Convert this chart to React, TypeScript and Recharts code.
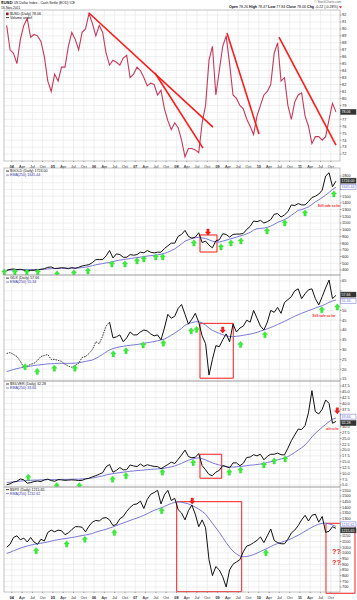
import React from "react";
import {
  ComposedChart,
  Line,
  Scatter,
  XAxis,
  YAxis,
  CartesianGrid,
  ReferenceLine,
  ReferenceArea,
  ReferenceDot,
} from "recharts";

const FONT = "'Liberation Sans', Arial, Helvetica, sans-serif";

// x axis: quarters, year label instead of Jan
const years = ["04", "05", "06", "07", "08", "09", "10", "11"];
const quarterNames = ["", "Apr", "Jul", "Oct"];

// monthly readings, Nov 2003 .. Nov 2011
const usd = [
  90.5, 87.0,
  86.5, 85.0, 88.5, 90.5, 91.5, 88.8, 89.2, 89.0, 88.2, 86.0, 82.5, 81.0,
  83.5, 82.5, 84.5, 84.5, 87.5, 89.5, 88.5, 87.0, 89.5, 90.0, 92.2, 90.8,
  89.0, 90.5, 89.5, 86.5, 84.8, 85.5, 85.2, 84.8, 85.8, 86.2, 83.0, 83.5,
  84.5, 84.0, 83.0, 81.8, 82.2, 82.0, 80.5, 81.2, 78.5, 76.8, 75.5, 76.5,
  75.8, 74.0, 71.6, 72.8, 72.8, 72.6, 72.2, 76.5, 79.0, 85.5, 87.5, 80.5,
  84.0, 87.5, 89.0, 85.0, 80.5, 80.0, 79.0, 78.5, 77.0, 76.0, 74.8, 77.5,
  79.0, 80.5, 81.0, 82.0, 86.5, 88.0, 82.5, 83.0, 79.0, 77.0, 79.5, 80.5,
  80.8, 77.5, 76.0, 73.5, 74.5, 74.5, 74.0, 74.5, 77.0, 79.3, 78.06,
];

const gold = [
  395, 410,
  415, 405, 410, 400, 385, 395, 395, 405, 410, 420, 440, 445,
  423, 425, 435, 430, 420, 435, 425, 440, 460, 470, 480, 510,
  555, 555, 555, 610, 690, 580, 640, 630, 590, 590, 630, 620,
  630, 665, 655, 690, 665, 655, 665, 665, 720, 760, 800, 800,
  900, 930, 990, 900, 875, 890, 955, 810, 830, 770, 730, 835,
  850, 940, 930, 890, 930, 935, 935, 945, 1005, 1050, 1130, 1120,
  1140, 1100, 1120, 1150, 1230, 1240, 1190, 1220, 1270, 1370, 1360, 1390,
  1370, 1370, 1420, 1480, 1500, 1530, 1590, 1800, 1850, 1640, 1724,
];

const goldEma = [
  395, 398,
  400, 402, 404, 405, 406, 407, 407, 408, 409, 411, 416, 420,
  422, 424, 425, 427, 427, 428, 429, 430, 436, 442, 452, 465,
  478, 487, 496, 505, 512, 525, 538, 548, 556, 563, 571, 578,
  585, 592, 600, 608, 614, 620, 627, 635, 648, 665, 690, 715,
  750, 790, 830, 850, 870, 880, 885, 878, 870, 850, 830, 820,
  817, 830, 845, 860, 875, 890, 905, 920, 940, 960, 995, 1015,
  1020, 1025, 1035, 1055, 1080, 1110, 1130, 1150, 1180, 1215, 1250, 1290,
  1300, 1320, 1340, 1375, 1415, 1445, 1480, 1515, 1555, 1600, 1635,
];

const gdx = [
  28.0, 28.5,
  27.5, 26.5, 24.0, 21.0, 21.5, 22.5, 23.0, 24.5, 26.5, 27.0, 27.5, 25.0,
  25.0, 24.5, 24.0, 22.5, 21.5, 21.0, 22.0, 23.0, 26.0, 26.5, 28.0, 30.0,
  34.0, 33.0, 37.0, 42.0, 44.0, 36.0, 36.5, 37.5, 34.0, 36.0, 39.0, 37.5,
  37.5, 39.0, 40.0, 39.5, 38.0, 37.0, 37.5, 35.0, 41.0, 48.0, 46.0, 47.0,
  51.0, 53.0, 48.0, 43.0, 45.5, 48.5, 44.0, 37.0, 33.0, 17.0, 25.0, 32.0,
  31.5, 35.0, 38.0, 34.0, 43.0, 39.0, 41.0, 42.0, 45.0, 44.0, 50.0, 46.0,
  42.0, 40.0, 44.0, 50.0, 49.0, 51.5, 48.5, 54.0, 55.5, 57.0, 60.0, 61.0,
  56.0, 58.5, 60.5, 61.0, 56.0, 52.8, 57.0, 61.5, 65.5, 56.0, 57.66,
];

const gdxEma = [
  18.8, 19.3,
  19.8, 20.3, 20.7, 21.0, 21.3, 21.6, 21.9, 22.1, 22.3, 22.5, 22.7, 22.8,
  22.9, 23.0, 23.0, 23.0, 23.0, 23.0, 23.1, 23.3, 23.6, 24.0, 24.3, 24.7,
  25.5, 26.5, 27.6, 28.8, 29.8, 30.5, 31.0, 31.4, 31.7, 32.0, 32.2, 32.4,
  32.6, 32.9, 33.2, 33.5, 33.8, 34.1, 34.5, 34.9, 35.4, 36.3, 37.3, 38.4,
  39.6, 40.8, 42.4, 43.2, 43.8, 44.2, 44.2, 43.6, 42.5, 41.0, 39.8, 39.0,
  38.3, 37.6, 37.0, 36.7, 36.6, 36.8, 37.0, 37.3, 37.6, 37.9, 38.3, 38.8,
  39.4, 40.0, 40.6, 41.3, 42.0, 42.8, 43.6, 44.4, 45.3, 46.2, 47.0, 47.8,
  48.5, 49.2, 49.9, 50.5, 51.2, 51.8, 52.4, 53.2, 54.1, 54.8, 55.3,
];

const silver = [
  5.1, 5.5,
  6.3, 6.6, 7.6, 7.2, 5.8, 6.0, 6.5, 6.7, 6.5, 7.2, 7.5, 6.9,
  6.6, 7.3, 7.2, 7.0, 7.1, 7.2, 7.1, 6.9, 7.0, 7.6, 7.9, 8.5,
  9.0, 9.6, 10.3, 12.8, 13.8, 10.5, 11.3, 12.5, 11.5, 11.6, 13.6, 13.2,
  12.9, 14.0, 13.0, 13.7, 13.3, 13.0, 12.9, 12.0, 12.9, 13.8, 14.8, 14.2,
  16.0, 17.9, 20.0, 17.2, 16.7, 16.9, 18.5, 13.3, 11.5, 9.5, 9.0, 10.5,
  11.3, 13.3, 12.9, 12.3, 14.5, 14.5, 13.3, 14.3, 16.8, 17.0, 18.0, 17.5,
  18.2, 15.8, 17.3, 18.2, 18.2, 18.7, 18.0, 17.9, 20.8, 24.0, 26.5, 29.0,
  28.8, 30.5, 36.0, 45.5, 36.5, 35.5, 37.5, 41.5, 40.0, 31.5, 32.28,
];

const silverEma = [
  6.1, 6.2,
  6.3, 6.5, 6.7, 6.8, 6.9, 7.0, 7.1, 7.1, 7.2, 7.2, 7.3, 7.3,
  7.3, 7.3, 7.4, 7.4, 7.4, 7.5, 7.5, 7.5, 7.6, 7.7, 7.8, 8.0,
  8.3, 8.6, 8.9, 9.3, 9.6, 9.9, 10.1, 10.3, 10.5, 10.7, 10.9, 11.0,
  11.2, 11.3, 11.4, 11.6, 11.7, 11.8, 11.9, 12.0, 12.2, 12.5, 12.8, 13.2,
  13.7, 14.3, 15.0, 15.6, 16.1, 16.5, 16.6, 16.3, 15.8, 15.1, 14.5, 14.0,
  13.6, 13.3, 13.0, 12.8, 12.7, 12.8, 12.9, 13.1, 13.3, 13.5, 13.6, 13.8,
  14.0, 14.3, 14.6, 15.0, 15.4, 15.8, 16.2, 16.6, 17.2, 18.0, 19.0, 20.0,
  21.0, 22.2, 23.8, 25.6, 27.2, 28.5, 29.8, 31.0, 32.2, 33.2, 33.7,
];

const spx = [
  1050, 1075,
  1135, 1150, 1115, 1130, 1095, 1135, 1095, 1075, 1120, 1105, 1180, 1200,
  1185, 1200, 1195, 1160, 1175, 1205, 1230, 1230, 1225, 1185, 1235, 1270,
  1285, 1280, 1305, 1310, 1290, 1240, 1250, 1300, 1320, 1365, 1400, 1425,
  1430, 1455, 1390, 1470, 1515, 1530, 1550, 1430, 1510, 1550, 1460, 1480,
  1380, 1350, 1290, 1370, 1420, 1340, 1230, 1290, 1220, 940, 800, 880,
  850, 790, 700, 850, 900, 920, 940, 1010, 1060, 1070, 1090, 1110,
  1140, 1090, 1150, 1210, 1110, 1090, 1080, 1080, 1120, 1175, 1200, 1240,
  1290, 1330, 1280, 1330, 1340, 1270, 1320, 1180, 1190, 1230, 1215.65,
];

const spxEma = [
  995, 1005,
  1018, 1030, 1042, 1052, 1060, 1068, 1075, 1080, 1085, 1090, 1096, 1103,
  1110, 1116, 1121, 1125, 1130, 1135, 1140, 1146, 1152, 1157, 1163, 1170,
  1183, 1191, 1199, 1208, 1218, 1228, 1240, 1252, 1263, 1274, 1285, 1296,
  1306, 1318, 1330, 1344, 1360, 1374, 1385, 1395, 1408, 1422, 1434, 1444,
  1448, 1445, 1438, 1430, 1418, 1402, 1385, 1365, 1340, 1300, 1260, 1220,
  1180, 1135, 1090, 1050, 1015, 990, 972, 966, 968, 975, 985, 998,
  1012, 1026, 1040, 1055, 1070, 1082, 1092, 1102, 1112, 1125, 1140, 1155,
  1172, 1190, 1208, 1225, 1240, 1252, 1260, 1262, 1255, 1245, 1233,
];

// tick values for the right axes
const usdTicks = [72, 73, 74, 75, 76, 77, 78, 79, 80, 81, 82, 83, 84, 85, 86, 87, 88, 89, 90, 91, 92];
const goldTicks = [400, 500, 600, 700, 800, 900, 1000, 1100, 1200, 1300, 1400, 1500, 1600, 1700, 1800];
const gdxTicks = [15, 20, 25, 30, 35, 40, 45, 50, 55, 60, 65];
const silverTicks = [5, 7.5, 10, 12.5, 15, 17.5, 20, 22.5, 25, 27.5, 30, 32.5, 35, 37.5, 40, 42.5, 45, 47.5];
const spxTicks = [700, 750, 800, 850, 900, 950, 1000, 1050, 1100, 1150, 1200, 1250, 1300, 1350, 1400, 1450, 1500, 1550];

// annotations (t = months since Jan 2004)
const usdTrends = [
  { t1: 22.5, v1: 92.29, t2: 58.66, v2: 75.88 },
  { t1: 41.75, v1: 83.65, t2: 55.74, v2: 72.86 },
  { t1: 62.74, v1: 89.41, t2: 72.07, v2: 74.88 },
  { t1: 77.9, v1: 88.83, t2: 94.52, v2: 73.3 },
];
const goldUp = [
  { t: -2.2, v: 370 }, { t: 0.9, v: 370 }, { t: 4.4, v: 370 }, { t: 7.6, v: 370 },
  { t: 13.2, v: 340 }, { t: 18.1, v: 355 }, { t: 22.2, v: 385 }, { t: 29.2, v: 490 },
  { t: 33, v: 490 }, { t: 36.5, v: 534 }, { t: 38.5, v: 564 }, { t: 42, v: 594 },
  { t: 44, v: 594 }, { t: 53.1, v: 802 }, { t: 61, v: 743 }, { t: 63.9, v: 802 },
  { t: 66.8, v: 832 }, { t: 74.4, v: 981 }, { t: 79.6, v: 1100 }, { t: 85.5, v: 1249 },
  { t: 93.9, v: 1533 },
];
const goldDown = [{ t: 57.2, v: 966 }];
const gdxUp = [
  { t: 3.85, v: 21.3 }, { t: 7.4, v: 18.8 }, { t: 12.4, v: 20.5 }, { t: 18.4, v: 20.5 },
  { t: 29.6, v: 27.8 }, { t: 33.3, v: 29.4 }, { t: 38.3, v: 32.4 }, { t: 44.2, v: 33.3 },
  { t: 52.3, v: 39.5 }, { t: 53.9, v: 40.3 }, { t: 66.7, v: 32.6 }, { t: 73.8, v: 37.6 },
  { t: 90.4, v: 50.3 }, { t: 94.9, v: 51.7 },
];
const gdxDown = [{ t: 61.5, v: 40.0 }];
const silverUp = [
  { t: 4.8, v: 8.3 }, { t: 13.1, v: 4.7 }, { t: 19.7, v: 4.7 }, { t: 29.4, v: 7.5 },
  { t: 33.3, v: 9.0 }, { t: 43.9, v: 10.5 }, { t: 52.9, v: 14.6 }, { t: 63.4, v: 10.5 },
  { t: 66.7, v: 11.4 }, { t: 73.5, v: 13.6 }, { t: 76.5, v: 15.3 }, { t: 79.7, v: 16.2 },
];
const silverDown = [{ t: 94.9, v: 36.9 }];
const spxUp = [
  { t: 7.1, v: 1019 }, { t: 16, v: 1078 }, { t: 21.3, v: 1119 },
  { t: 29.9, v: 1178 }, { t: 43.7, v: 1371 }, { t: 74.1, v: 1002 },
];
const spxDown = [{ t: 52.6, v: 1456 }];

const goldBox = { t1: 54.87, t2: 59.83, v1: 668, v2: 922 };
const gdxBox = { t1: 54.87, t2: 64.58, v1: 15.4, v2: 43.4 };
const silverBox = { t1: 54.87, t2: 61.2, v1: 7.9, v2: 18.2 };
const spxBoxes = [
  { t1: 48.08, t2: 67.03, v1: 659, v2: 1450 },
  { t1: 91.6, t2: 100.06, v1: 645, v2: 1260 },
];

const quarterTicks = years.flatMap((_, i) => [0, 3, 6, 9].map((m) => i * 12 + m));
const xDomain: [number, number] = [-2.27, 95.69];

const rows = usd.map((v, i) => ({
  t: i - 1.5,
  usd: v,
  gold: gold[i],
  goldEma: goldEma[i],
  gdxEarly: i <= 30 ? gdx[i] : null,
  gdx: i >= 30 ? gdx[i] : null,
  gdxEma: gdxEma[i],
  silver: silver[i],
  silverEma: silverEma[i],
  spx: spx[i],
  spxEma: spxEma[i],
}));

const EMA_BLUE = "#6a6ad0";
const RED = "#ff1a1a";

function quarterLabel(t: number) {
  const y = Math.floor(t / 12);
  const q = (t % 12) / 3;
  return q === 0 ? years[y] : quarterNames[q];
}

const XTick = (p: any) => {
  const t = p.payload.value;
  return (
    <text x={p.x} y={p.y + 3.6} textAnchor="middle" fontSize={3.8} fontFamily={FONT}
      fontWeight={t % 12 === 0 ? 700 : 400} fill="#222">
      {quarterLabel(t)}
    </text>
  );
};

// right-axis tick; ticks covered by a price tag are not drawn
const YTick = (p: any) => {
  const v = p.payload.value;
  if (p.covered && p.covered.includes(v)) return null;
  return (
    <text x={p.x} y={p.y} dy="0.35em" textAnchor="start" fontSize={3.9} fontFamily={FONT} fill="#222">
      {p.fmt ? p.fmt(v) : v}
    </text>
  );
};

const UpArrow = (p: any) => {
  const { cx, cy } = p;
  if (cx == null || cy == null) return null;
  return (
    <path
      d={`M${cx},${cy - 3.2} L${cx + 2.7},${cy} L${cx + 1.2},${cy} L${cx + 1.2},${cy + 3} L${cx - 1.2},${cy + 3} L${cx - 1.2},${cy} L${cx - 2.7},${cy} Z`}
      fill="#33f233" stroke="#22c422" strokeWidth={0.3}
    />
  );
};

const DownArrow = (p: any) => {
  const { cx, cy } = p;
  if (cx == null || cy == null) return null;
  return (
    <path
      d={`M${cx},${cy + 3.2} L${cx + 2.7},${cy} L${cx + 1.2},${cy} L${cx + 1.2},${cy - 3} L${cx - 1.2},${cy - 3} L${cx - 1.2},${cy} L${cx - 2.7},${cy} Z`}
      fill={RED} stroke="#c00" strokeWidth={0.3}
    />
  );
};

const note = (text: string, size: number) => (p: any) => (
  <text x={p.cx} y={p.cy + size * 0.35} textAnchor="middle" fontSize={size} fontWeight={700}
    fill={RED} fontFamily={FONT}>
    {text}
  </text>
);

const tag = (text: string, ema: boolean, nudge = 0) => (p: any) => (
  <g>
    <rect x={p.cx + 0.5} y={p.cy - 2.5 + nudge} width={15.5} height={5}
      fill={ema ? "#fff" : "#333"} stroke={ema ? EMA_BLUE : "#333"} strokeWidth={0.5} />
    <text x={p.cx + 1.5} y={p.cy + 1.3 + nudge} fontSize={3.6} fontFamily={FONT}
      fill={ema ? EMA_BLUE : "#fff"}>
      {text}
    </text>
  </g>
);

type PanelProps = {
  top: number;
  height: number;
  domain: [number, number];
  ticks: number[];
  tags: number[];
  showX?: boolean;
  fmt?: (v: number) => string;
  children: React.ReactNode;
};

function Panel({ top, height, domain, ticks, tags, showX, fmt, children }: PanelProps) {
  const plotH = height - (showX ? 8 : 0);
  const pxPerUnit = plotH / (domain[1] - domain[0]);
  const covered = ticks.filter((tk) => tags.some((tv) => Math.abs(tk - tv) * pxPerUnit < 5));
  return (
    <div style={{ position: "absolute", left: 0, top, width: 357, height }}>
      <ComposedChart width={357} height={height} data={rows}
        margin={{ top: 0, right: 0, bottom: 0, left: 4 }}>
        <CartesianGrid stroke="#e4e4e4" strokeWidth={0.6}
          horizontalValues={ticks} verticalValues={quarterTicks} />
        <XAxis dataKey="t" type="number" domain={xDomain} ticks={quarterTicks} interval={0}
          hide={!showX} height={showX ? 8 : 0} tick={<XTick />} tickSize={1}
          tickLine={{ stroke: "#999" }} axisLine={false} />
        <YAxis orientation="right" width={17} type="number" domain={domain} ticks={ticks}
          interval={0} tickSize={1.5} tickMargin={0.5}
          tick={<YTick covered={covered} fmt={fmt} />}
          tickLine={{ stroke: "#999" }} axisLine={false} />
        {children}
      </ComposedChart>
    </div>
  );
}

function Legend({ y, name, ema }: { y: number; name: string; ema: string }) {
  return (
    <g fontFamily={FONT} fontSize={3.6}>
      <line x1={6} x2={9} y1={y - 1.2} y2={y - 1.2} stroke="#111" strokeWidth={0.8} />
      <text x={10} y={y} fill="#111">{name}</text>
      <line x1={6} x2={9} y1={y + 2.8} y2={y + 2.8} stroke={EMA_BLUE} strokeWidth={0.8} />
      <text x={10} y={y + 4} fill="#3a3aa8">{ema}</text>
    </g>
  );
}

export default function App() {
  const plots = [
    [10, 151],
    [168, 107],
    [275, 106],
    [381, 106],
    [487, 105],
  ];
  return (
    <div style={{ position: "absolute", left: 0, top: 0, width: 357, height: 600, background: "#fff", overflow: "hidden" }}>
      {/* $USD */}
      <Panel top={10} height={159} domain={[71.0, 92.72]} ticks={usdTicks} tags={[78.06]} showX>
        <Line dataKey="usd" stroke="#c8385a" strokeWidth={1.1} dot={false} isAnimationActive={false} />
        {usdTrends.map((s, i) => (
          <ReferenceLine key={i} segment={[{ x: s.t1, y: s.v1 }, { x: s.t2, y: s.v2 }]}
            stroke={RED} strokeWidth={1.6} ifOverflow="visible" />
        ))}
        <ReferenceDot x={xDomain[1]} y={78.06} r={0} ifOverflow="visible" shape={tag("78.06", false)} />
      </Panel>

      {/* $GOLD */}
      <Panel top={168} height={107} domain={[325.5, 1920]} ticks={goldTicks} tags={[1724, 1645.44]}>
        <Line dataKey="goldEma" stroke={EMA_BLUE} strokeWidth={0.9} dot={false} isAnimationActive={false} />
        <Line dataKey="gold" stroke="#111" strokeWidth={1} dot={false} isAnimationActive={false} />
        <ReferenceArea x1={goldBox.t1} x2={goldBox.t2} y1={goldBox.v1} y2={goldBox.v2}
          fill="none" stroke={RED} strokeWidth={1} ifOverflow="visible" />
        <Scatter data={goldUp} dataKey="v" shape={UpArrow} isAnimationActive={false} />
        <Scatter data={goldDown} dataKey="v" shape={DownArrow} isAnimationActive={false} />
        <ReferenceDot x={92.5} y={1354} r={0} ifOverflow="visible" shape={note("Still safe so far", 3.2)} />
        <ReferenceDot x={xDomain[1]} y={1724} r={0} ifOverflow="visible" shape={tag("1724.00", false, -0.5)} />
        <ReferenceDot x={xDomain[1]} y={1645.44} r={0} ifOverflow="visible" shape={tag("1645.44", true, 0.5)} />
      </Panel>

      {/* GDX */}
      <Panel top={275} height={106} domain={[13.98, 68.06]} ticks={gdxTicks} tags={[57.66, 55.34]}>
        <Line dataKey="gdxEma" stroke={EMA_BLUE} strokeWidth={0.9} dot={false} isAnimationActive={false} />
        <Line dataKey="gdxEarly" stroke="#222" strokeWidth={0.9} strokeDasharray="1.5 1" dot={false}
          connectNulls={false} isAnimationActive={false} />
        <Line dataKey="gdx" stroke="#111" strokeWidth={1} dot={false} connectNulls={false} isAnimationActive={false} />
        <ReferenceArea x1={gdxBox.t1} x2={gdxBox.t2} y1={gdxBox.v1} y2={gdxBox.v2}
          fill="none" stroke={RED} strokeWidth={1} ifOverflow="visible" />
        <Scatter data={gdxUp} dataKey="v" shape={UpArrow} isAnimationActive={false} />
        <Scatter data={gdxDown} dataKey="v" shape={DownArrow} isAnimationActive={false} />
        <ReferenceDot x={91.0} y={47.1} r={0} ifOverflow="visible" shape={note("Still safe so far", 3.2)} />
        <ReferenceDot x={xDomain[1]} y={57.66} r={0} ifOverflow="visible" shape={tag("57.66", false, -0.8)} />
        <ReferenceDot x={xDomain[1]} y={55.34} r={0} ifOverflow="visible" shape={tag("55.34", true, 0.8)} />
      </Panel>

      {/* $SILVER */}
      <Panel top={381} height={106} domain={[4.14, 49.64]} ticks={silverTicks} tags={[33.66, 32.28]}
        fmt={(v) => v.toFixed(1)}>
        <Line dataKey="silverEma" stroke={EMA_BLUE} strokeWidth={0.9} dot={false} isAnimationActive={false} />
        <Line dataKey="silver" stroke="#111" strokeWidth={1} dot={false} isAnimationActive={false} />
        <ReferenceArea x1={silverBox.t1} x2={silverBox.t2} y1={silverBox.v1} y2={silverBox.v2}
          fill="none" stroke={RED} strokeWidth={1} ifOverflow="visible" />
        <Scatter data={silverUp} dataKey="v" shape={UpArrow} isAnimationActive={false} />
        <Scatter data={silverDown} dataKey="v" shape={DownArrow} isAnimationActive={false} />
        <ReferenceDot x={93.4} y={29.0} r={0} ifOverflow="visible" shape={note("safe so far", 2.6)} />
        <ReferenceDot x={xDomain[1]} y={33.66} r={0} ifOverflow="visible" shape={tag("33.66", true, -1.6)} />
        <ReferenceDot x={xDomain[1]} y={32.28} r={0} ifOverflow="visible" shape={tag("32.28", false, 1.6)} />
      </Panel>

      {/* $SPX */}
      <Panel top={487} height={113} domain={[656, 1579]} ticks={spxTicks} tags={[1232.62, 1215.65]} showX>
        <Line dataKey="spxEma" stroke={EMA_BLUE} strokeWidth={0.9} dot={false} isAnimationActive={false} />
        <Line dataKey="spx" stroke="#111" strokeWidth={1} dot={false} isAnimationActive={false} />
        {spxBoxes.map((b, i) => (
          <ReferenceArea key={i} x1={b.t1} x2={b.t2} y1={b.v1} y2={b.v2}
            fill="none" stroke={RED} strokeWidth={1} ifOverflow="visible" />
        ))}
        <Scatter data={spxUp} dataKey="v" shape={UpArrow} isAnimationActive={false} />
        <Scatter data={spxDown} dataKey="v" shape={DownArrow} isAnimationActive={false} />
        <ReferenceDot x={94.7} y={1010} r={0} ifOverflow="visible" shape={note("??", 7.5)} />
        <ReferenceDot x={94.7} y={913} r={0} ifOverflow="visible" shape={note("??", 7.5)} />
        <ReferenceDot x={xDomain[1]} y={1232.62} r={0} ifOverflow="visible" shape={tag("1232.62", true, -2)} />
        <ReferenceDot x={xDomain[1]} y={1215.65} r={0} ifOverflow="visible" shape={tag("1215.65", false, 2)} />
      </Panel>

      <svg width={357} height={600} style={{ position: "absolute", left: 0, top: 0, pointerEvents: "none" }}>
        {plots.map(([t, h], i) => (
          <rect key={i} x={4} y={t} width={336} height={h} fill="none" stroke="#999" strokeWidth={0.6} />
        ))}
        <g fontFamily={FONT}>
          <text x={1} y={4.3} fontSize={4.4} fontWeight={700} fill="#111">
            $USD<tspan fontSize={3.4} fontWeight={400}> US Dollar Index - Cash Settle (EOD) ICE</tspan>
          </text>
          <text x={1} y={8.8} fontSize={3.4} fill="#111">16-Nov-2011</text>
          <text x={341} y={3.4} fontSize={3.1} textAnchor="end" fill="#666">© StockCharts.com</text>
          <text x={338} y={8.2} fontSize={3.6} textAnchor="end" fill="#111">
            <tspan fontWeight={700}>Open</tspan> 78.26 <tspan fontWeight={700}>High</tspan> 78.47{" "}
            <tspan fontWeight={700}>Low</tspan> 77.84 <tspan fontWeight={700}>Close</tspan> 78.06{" "}
            <tspan fontWeight={700}>Chg</tspan> -0.22 (-0.28%)
          </text>
          <path d="M339,6.2 L342,6.2 L340.5,8.4 Z" fill={RED} />
          <rect x={6} y={12.6} width={2.6} height={2.6} fill="#8a1a30" />
          <text x={10} y={15.2} fontSize={3.6} fill="#111">$USD (Daily) 78.06</text>
          <line x1={6} x2={9} y1={17.6} y2={17.6} stroke="#111" strokeWidth={0.8} />
          <text x={10} y={18.9} fontSize={3.6} fill="#111">Volume undef</text>
        </g>
        <Legend y={172.3} name="$GOLD (Daily) 1724.00" ema="EMA(250) 1645.44" />
        <Legend y={279.3} name="GDX (Daily) 57.66" ema="EMA(250) 55.34" />
        <Legend y={385.2} name="$SILVER (Daily) 32.28" ema="EMA(250) 33.66" />
        <Legend y={490.8} name="$SPX (Daily) 1215.65" ema="EMA(250) 1232.62" />
      </svg>
    </div>
  );
}
